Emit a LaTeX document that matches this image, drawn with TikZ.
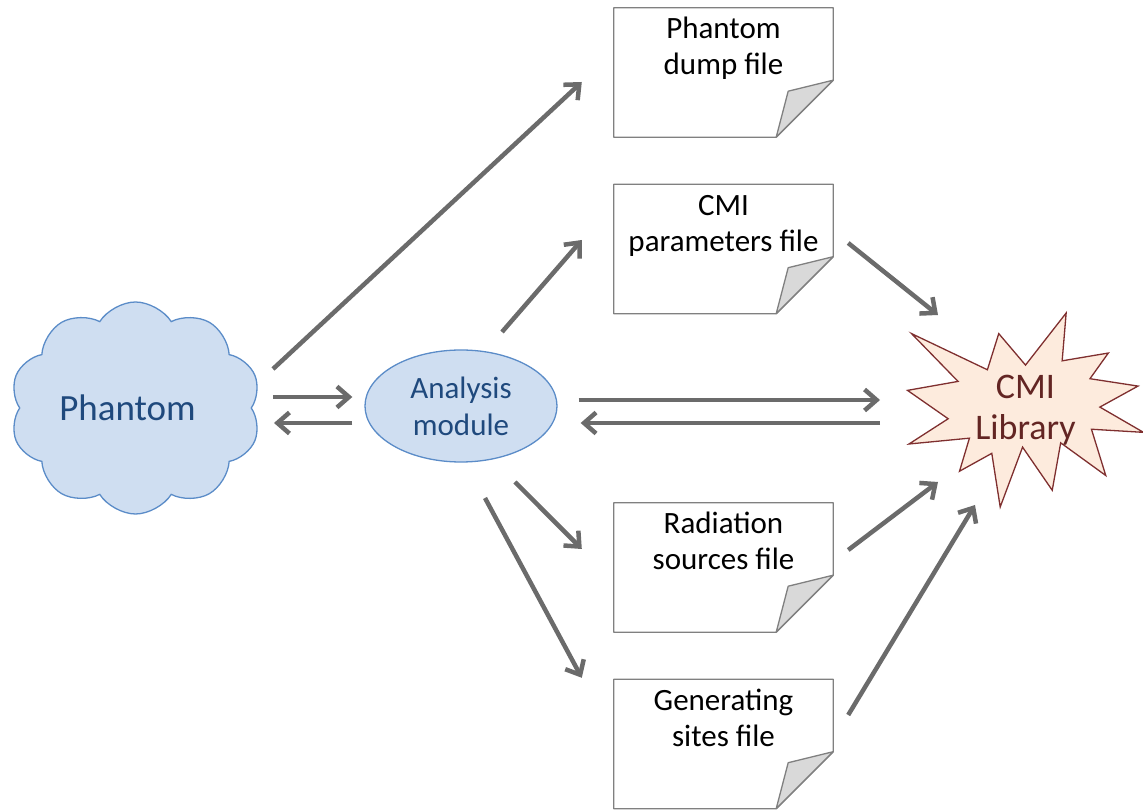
\documentclass[tikz,border=0pt]{standalone}
\usepackage{fontspec}
\setmainfont{Carlito}
\usetikzlibrary{positioning,arrows.meta,shapes.symbols,shapes.geometric,backgrounds}
\tikzset{>={Straight Barb[length=12pt,width=21pt]}}

\definecolor{arrowgray}{HTML}{6B6B6B}
\definecolor{bluefill}{HTML}{CFDEF1}
\definecolor{blueedge}{HTML}{5B8CC8}
\definecolor{bluetext}{HTML}{1F497D}
\definecolor{burstfill}{HTML}{FDEBDD}
\definecolor{burstedge}{HTML}{7F2F2F}
\definecolor{bursttext}{HTML}{632523}
\definecolor{docgray}{HTML}{808080}
\definecolor{foldgray}{HTML}{D9D9D9}

\tikzset{
  doc/.style={minimum width=219pt, minimum height=129pt, inner sep=0pt, align=center,
    text height=67pt, text depth=62pt, font=\fontsize{31}{36}\selectfont},
  docline/.style={draw=docgray, line width=1.3pt, line join=round},
  module/.style={ellipse, draw=blueedge, fill=bluefill, line width=1.3pt, text=bluetext,
    minimum width=192pt, minimum height=112pt, inner sep=0pt, align=center,
    font=\fontsize{31}{37}\selectfont},
  cloudbox/.style={cloud, cloud puffs=10, cloud puff arc=115, aspect=1.15, draw=blueedge,
    fill=bluefill, line width=1.3pt, minimum width=251pt,
    minimum height=212pt, inner sep=0pt},
  cloudtext/.style={text=bluetext, font=\fontsize{37}{44}\selectfont},
  burst/.style={minimum width=236pt, minimum height=194pt, inner sep=0pt, align=center,
    text=bursttext, font=\fontsize{36}{41}\selectfont},
  burstline/.style={draw=burstedge, fill=burstfill, line width=1.3pt, line join=miter},
  flow/.style={draw=arrowgray, line width=4.5pt, ->}
}

\begin{document}
\begin{tikzpicture}[node distance=2cm, on grid]
    \useasboundingbox (-461pt,406pt) rectangle (682pt,-404pt);

    \node[module] (analysis) at (0,0) {Analysis\\module};
    \node[cloudbox, label={[cloudtext, xshift=-8pt]center:Phantom}] (phantom)
      [below left=2pt and 325.5pt of analysis] {};
    \node[doc] (dump) [above right=333.5pt and 262.5pt of analysis] {Phantom\\dump file};
    \node[doc] (params) [above right=157pt and 262.5pt of analysis] {CMI\\parameters file};
    \node[doc] (radiation) [below right=161.5pt and 262.5pt of analysis] {Radiation\\sources file};
    \node[doc] (sites) [below right=338pt and 262.5pt of analysis] {Generating\\sites file};
    \node[burst] (library) [below right=4pt and 564.5pt of analysis] {CMI\\Library};

    % explosion shape behind the library text
    \begin{scope}[on background layer, shift={(library.center)}, x=1.0926pt, y=-0.8981pt, shift={(-108,-108)}]
      \draw[burstline] (108,58) -- (145.22,0) -- (141.55,53.25) -- (183.80,44.57)
        -- (167.02,73.15) -- (210.97,81.37) -- (176.07,104.75) -- (216,132.90)
        -- (168.37,129.42) -- (181.45,180.95) -- (140.20,144.57) -- (132.47,197.37)
        -- (105.32,149.35) -- (84.85,216) -- (77.15,156.27) -- (47.62,176.17)
        -- (56.67,139.37) -- (1.35,145.87) -- (37.22,117.75) -- (0,86.15)
        -- (46.27,76.17) -- (3.70,22.95) -- (73.12,63.20) -- (83.52,22.95) -- cycle;
    \end{scope}

    % dog-eared file outlines
    \foreach \f in {dump,params,radiation,sites}{
      \draw[docline] (\f.south west) -- (\f.north west) -- (\f.north east)
        -- ([yshift=57pt]\f.south east) -- ([xshift=-57pt]\f.south east) -- cycle;
      \draw[docline, fill=foldgray] ([yshift=57pt]\f.south east)
        -- ([shift={(-45pt,46pt)}]\f.south east) -- ([xshift=-57pt]\f.south east) -- cycle;
    }

    \path[every edge/.style={flow}]
      ([shift={(137.5pt,39pt)}]phantom.center) edge ([shift={(-32pt,-9.5pt)}]dump.west)
      ([shift={(137.5pt,11pt)}]phantom.center) edge ([shift={(-12pt,9pt)}]analysis.west)
      ([shift={(-12pt,-17pt)}]analysis.west) edge ([shift={(138.5pt,-15pt)}]phantom.center)
      ([shift={(41pt,74pt)}]analysis.center) edge ([shift={(-32pt,9pt)}]params.west)
      ([shift={(15pt,6pt)}]params.east) edge ([shift={(-87.5pt,95pt)}]library.center)
      ([shift={(21pt,6pt)}]analysis.east) edge ([shift={(-145.5pt,10pt)}]library.center)
      ([shift={(-145.5pt,-13pt)}]library.center) edge ([shift={(23pt,-17pt)}]analysis.east)
      ([shift={(54pt,-76pt)}]analysis.center) edge ([shift={(-32pt,18.5pt)}]radiation.west)
      ([shift={(24pt,-92pt)}]analysis.center) edge ([shift={(-32pt,1.5pt)}]sites.north west)
      ([shift={(15pt,17.5pt)}]radiation.east) edge ([shift={(-87.5pt,-72pt)}]library.center)
      ([shift={(15pt,29pt)}]sites.east) edge ([shift={(-50.5pt,-95pt)}]library.center);
\end{tikzpicture}
\end{document}
